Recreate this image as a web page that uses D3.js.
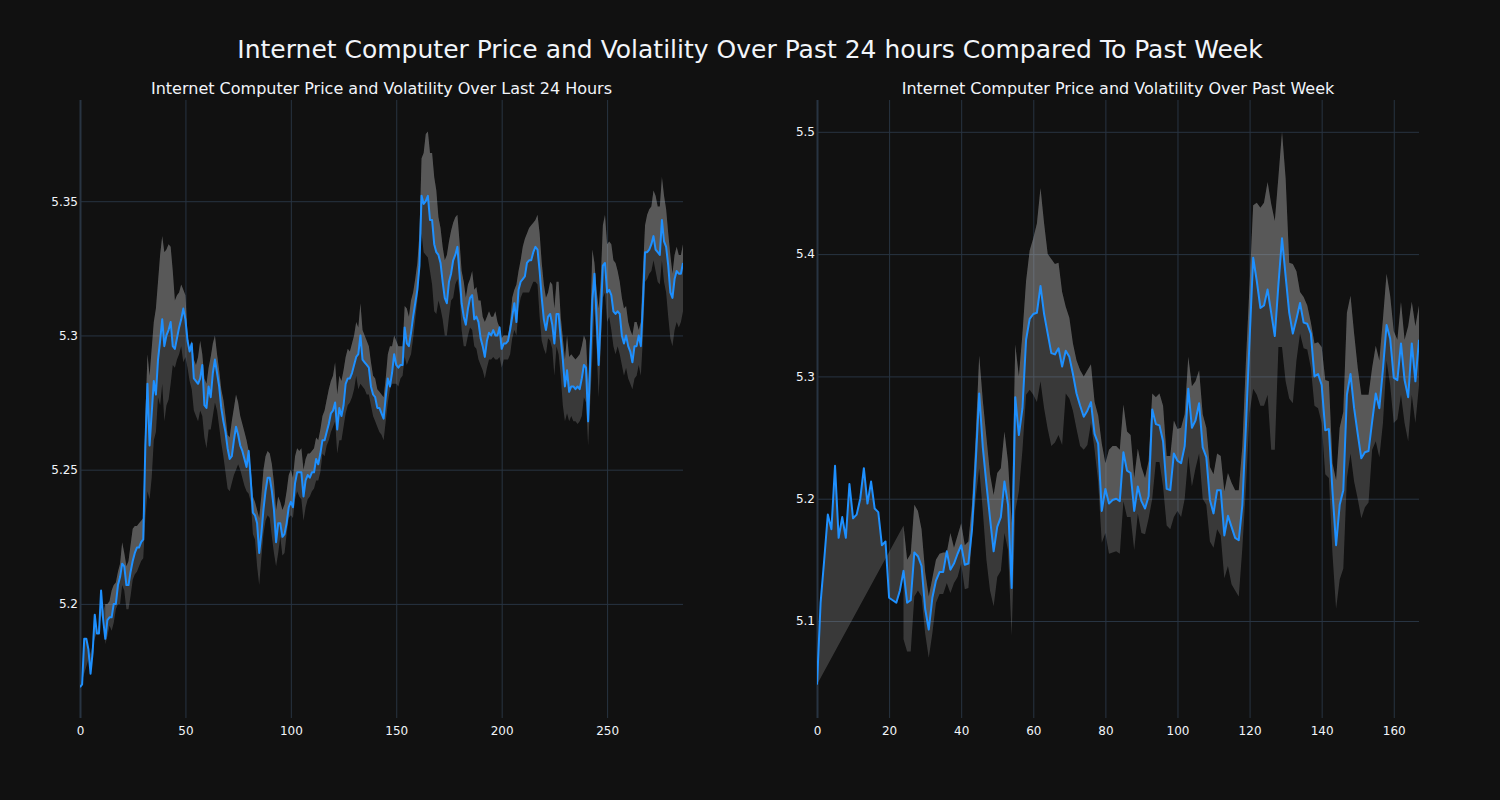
<!DOCTYPE html>
<html>
<head>
<meta charset="utf-8">
<script src="https://cdn.jsdelivr.net/npm/d3@7"></script>
<style>
  html, body { margin: 0; padding: 0; background: #111111; }
  svg { display: block; }
  text { font-family: "DejaVu Sans", sans-serif; fill: #f2f5fa; }
</style>
</head>
<body>
<svg id="chart" width="1500" height="800"></svg>
<script>
// ---------- DATA ----------
const mainTitle = "Internet Computer Price and Volatility Over Past 24 hours Compared To Past Week";
const leftTitle = "Internet Computer Price and Volatility Over Last 24 Hours";
const rightTitle = "Internet Computer Price and Volatility Over Past Week";

const leftXTicks = [0, 50, 100, 150, 200, 250];
const leftYTicks = [5.2, 5.25, 5.3, 5.35];
const leftYTickLabels = ["5.2", "5.25", "5.3", "5.35"];
const rightXTicks = [0, 20, 40, 60, 80, 100, 120, 140, 160];
const rightYTicks = [5.1, 5.2, 5.3, 5.4, 5.5];
const rightYTickLabels = ["5.1", "5.2", "5.3", "5.4", "5.5"];

// 24h price (5-minute steps)
const dayPrice = [
5.169,5.170,5.187,5.187,5.183,5.174,5.182,5.196,5.189,5.189,5.205,5.194,5.187,5.194,5.195,5.195,5.200,5.200,5.207,5.210,
5.215,5.214,5.207,5.207,5.212,5.216,5.219,5.221,5.221,5.223,5.224,5.259,5.282,5.259,5.271,5.283,5.278,5.291,5.298,5.306,
5.296,5.300,5.302,5.305,5.296,5.295,5.299,5.303,5.306,5.310,5.306,5.298,5.294,5.297,5.284,5.283,5.282,5.284,5.289,5.274,
5.273,5.281,5.277,5.286,5.291,5.286,5.281,5.273,5.268,5.264,5.258,5.254,5.255,5.261,5.266,5.263,5.259,5.257,5.254,5.251,
5.257,5.246,5.234,5.233,5.230,5.219,5.226,5.235,5.242,5.247,5.247,5.242,5.235,5.223,5.230,5.230,5.225,5.226,5.230,5.236,
5.238,5.236,5.245,5.249,5.249,5.249,5.240,5.246,5.248,5.247,5.249,5.249,5.254,5.252,5.256,5.261,5.261,5.264,5.267,5.271,
5.272,5.275,5.265,5.273,5.270,5.274,5.282,5.284,5.284,5.286,5.289,5.292,5.293,5.300,5.291,5.290,5.289,5.288,5.281,5.278,
5.277,5.273,5.273,5.271,5.269,5.277,5.284,5.281,5.286,5.293,5.289,5.288,5.289,5.289,5.303,5.297,5.296,5.301,5.307,5.312,
5.317,5.326,5.352,5.349,5.350,5.352,5.343,5.343,5.334,5.331,5.330,5.327,5.320,5.314,5.312,5.320,5.323,5.328,5.330,5.333,
5.323,5.312,5.307,5.304,5.310,5.314,5.315,5.306,5.307,5.305,5.299,5.296,5.292,5.298,5.301,5.300,5.302,5.300,5.300,5.303,
5.295,5.297,5.297,5.298,5.302,5.307,5.312,5.305,5.317,5.320,5.321,5.322,5.327,5.328,5.328,5.331,5.333,5.332,5.324,5.314,
5.306,5.302,5.307,5.308,5.304,5.297,5.308,5.308,5.299,5.291,5.281,5.287,5.279,5.281,5.281,5.280,5.281,5.280,5.284,5.289,
5.288,5.268,5.290,5.313,5.323,5.307,5.289,5.307,5.326,5.327,5.316,5.317,5.315,5.309,5.308,5.309,5.308,5.300,5.297,5.300,
5.296,5.294,5.290,5.296,5.296,5.300,5.296,5.312,5.331,5.331,5.332,5.334,5.337,5.332,5.331,5.330,5.343,5.335,5.333,5.326,
5.316,5.314,5.321,5.324,5.323,5.323,5.327
];
// 24h volatility band (first valid index 12)
const dayUpper = [
null,null,null,null,null,null,null,null,null,null,null,null,
5.200,5.200,5.201,5.205,5.207,5.208,5.212,5.215,5.223,5.219,5.214,5.216,5.222,5.228,5.229,5.229,5.230,5.231,
5.232,5.270,5.293,5.285,5.295,5.305,5.310,5.320,5.330,5.337,5.331,5.332,5.334,5.333,5.324,5.313,5.315,5.316,5.319,5.317,
5.315,5.300,5.295,5.298,5.291,5.289,5.292,5.298,5.293,5.284,5.282,5.288,5.292,5.297,5.300,5.293,5.287,5.280,5.276,5.270,
5.263,5.262,5.268,5.273,5.278,5.275,5.270,5.267,5.264,5.261,5.257,5.250,5.240,5.238,5.235,5.232,5.240,5.250,5.255,5.257,
5.256,5.252,5.245,5.235,5.240,5.238,5.235,5.237,5.242,5.248,5.250,5.247,5.255,5.258,5.257,5.258,5.250,5.254,5.256,5.256,
5.257,5.258,5.262,5.261,5.265,5.270,5.272,5.276,5.280,5.283,5.285,5.290,5.278,5.285,5.283,5.287,5.292,5.295,5.294,5.297,
5.300,5.305,5.303,5.312,5.302,5.300,5.298,5.296,5.290,5.285,5.284,5.280,5.279,5.278,5.277,5.284,5.293,5.296,5.296,5.300,
5.298,5.296,5.296,5.296,5.311,5.310,5.307,5.313,5.316,5.321,5.327,5.338,5.366,5.368,5.375,5.376,5.368,5.368,5.359,5.354,
5.344,5.340,5.333,5.328,5.330,5.335,5.339,5.342,5.344,5.345,5.335,5.324,5.320,5.314,5.319,5.321,5.324,5.317,5.318,5.313,
5.313,5.307,5.305,5.307,5.309,5.307,5.307,5.309,5.305,5.303,5.299,5.300,5.300,5.300,5.305,5.314,5.317,5.319,5.324,5.328,
5.333,5.336,5.338,5.340,5.341,5.342,5.343,5.345,5.338,5.327,5.319,5.314,5.316,5.320,5.319,5.310,5.320,5.320,5.307,5.299,
5.291,5.300,5.292,5.293,5.292,5.291,5.292,5.293,5.296,5.300,5.298,5.282,5.302,5.332,5.327,5.317,5.310,5.321,5.341,5.345,
5.334,5.335,5.334,5.328,5.327,5.324,5.320,5.314,5.310,5.311,5.305,5.302,5.300,5.305,5.305,5.302,5.305,5.324,5.341,5.345,
5.347,5.348,5.354,5.352,5.348,5.348,5.359,5.352,5.347,5.338,5.330,5.323,5.330,5.333,5.330,5.330,5.334
];
const dayLower = [
null,null,null,null,null,null,null,null,null,null,null,null,
5.185,5.188,5.192,5.190,5.193,5.198,5.200,5.200,5.207,5.205,5.198,5.198,5.203,5.209,5.211,5.212,5.214,5.216,
5.217,5.232,5.242,5.239,5.247,5.261,5.264,5.277,5.274,5.282,5.268,5.274,5.276,5.282,5.289,5.288,5.291,5.293,5.296,5.290,
5.292,5.288,5.283,5.280,5.272,5.270,5.268,5.272,5.270,5.262,5.258,5.265,5.265,5.270,5.275,5.272,5.266,5.260,5.255,5.249,
5.243,5.242,5.245,5.248,5.250,5.252,5.250,5.247,5.244,5.242,5.241,5.238,5.226,5.224,5.214,5.207,5.217,5.226,5.231,5.233,
5.232,5.225,5.219,5.214,5.219,5.225,5.218,5.219,5.226,5.232,5.233,5.232,5.239,5.242,5.240,5.239,5.231,5.236,5.239,5.240,
5.242,5.243,5.246,5.246,5.249,5.256,5.255,5.259,5.261,5.264,5.266,5.268,5.256,5.261,5.261,5.266,5.271,5.274,5.275,5.277,
5.280,5.285,5.280,5.282,5.281,5.280,5.278,5.278,5.274,5.270,5.268,5.266,5.264,5.263,5.261,5.268,5.275,5.280,5.282,5.282,
5.282,5.281,5.284,5.285,5.292,5.289,5.291,5.293,5.299,5.306,5.313,5.324,5.338,5.331,5.330,5.329,5.324,5.319,5.309,5.308,
5.313,5.310,5.306,5.300,5.300,5.307,5.313,5.314,5.319,5.321,5.316,5.302,5.296,5.296,5.300,5.303,5.302,5.296,5.295,5.291,
5.289,5.287,5.284,5.288,5.291,5.291,5.292,5.291,5.291,5.292,5.288,5.291,5.291,5.291,5.293,5.299,5.302,5.300,5.310,5.314,
5.316,5.316,5.316,5.316,5.318,5.320,5.320,5.319,5.307,5.298,5.295,5.293,5.299,5.298,5.295,5.285,5.296,5.293,5.285,5.274,
5.268,5.271,5.268,5.270,5.268,5.268,5.267,5.268,5.270,5.277,5.275,5.259,5.275,5.292,5.310,5.296,5.277,5.296,5.314,5.316,
5.305,5.307,5.302,5.296,5.293,5.296,5.293,5.289,5.285,5.288,5.284,5.282,5.280,5.284,5.285,5.289,5.285,5.299,5.320,5.321,
5.323,5.324,5.328,5.324,5.320,5.319,5.328,5.320,5.316,5.307,5.299,5.296,5.302,5.305,5.303,5.305,5.309
];

// Week price (hourly steps)
const weekPrice = [
5.048,5.115,5.150,5.187,5.175,5.227,5.168,5.185,5.168,5.212,5.184,5.187,5.200,5.225,5.196,5.214,5.192,5.189,5.162,5.165,
5.119,5.117,5.115,5.125,5.141,5.115,5.117,5.156,5.153,5.145,5.110,5.093,5.119,5.133,5.140,5.140,5.157,5.142,5.147,5.155,
5.162,5.146,5.147,5.175,5.228,5.286,5.242,5.212,5.184,5.157,5.177,5.185,5.214,5.195,5.127,5.283,5.252,5.274,5.330,5.347,
5.351,5.352,5.374,5.351,5.335,5.319,5.318,5.323,5.308,5.321,5.316,5.302,5.286,5.276,5.267,5.272,5.279,5.253,5.245,5.190,
5.208,5.196,5.199,5.200,5.198,5.238,5.223,5.221,5.190,5.210,5.198,5.192,5.202,5.273,5.261,5.260,5.247,5.208,5.207,5.237,
5.231,5.229,5.243,5.290,5.258,5.264,5.278,5.242,5.234,5.199,5.188,5.207,5.207,5.170,5.186,5.177,5.168,5.166,5.195,5.260,
5.330,5.397,5.378,5.356,5.358,5.371,5.352,5.333,5.375,5.413,5.382,5.352,5.335,5.347,5.360,5.344,5.343,5.335,5.300,5.302,
5.293,5.256,5.257,5.206,5.162,5.195,5.207,5.285,5.302,5.274,5.253,5.233,5.238,5.239,5.263,5.286,5.274,5.306,5.342,5.331,
5.299,5.297,5.327,5.297,5.283,5.327,5.296,5.330
];
const weekUpper = [
null,null,null,null,null,null,null,null,null,null,null,null,null,null,null,null,null,null,null,null,null,null,null,null,
5.178,5.150,5.155,5.195,5.190,5.175,5.140,5.120,5.135,5.150,5.155,5.156,5.156,5.172,5.160,5.170,
5.180,5.162,5.165,5.195,5.250,5.317,5.280,5.250,5.220,5.203,5.221,5.225,5.255,5.230,5.180,5.326,5.300,5.335,5.378,5.403,
5.413,5.425,5.454,5.425,5.400,5.396,5.392,5.393,5.369,5.357,5.348,5.327,5.313,5.305,5.300,5.305,5.310,5.279,5.268,5.245,
5.229,5.240,5.243,5.243,5.240,5.277,5.255,5.252,5.217,5.241,5.226,5.217,5.231,5.286,5.283,5.286,5.276,5.235,5.235,5.264,
5.257,5.258,5.269,5.316,5.292,5.296,5.305,5.269,5.258,5.226,5.220,5.237,5.235,5.206,5.221,5.213,5.207,5.207,5.243,5.313,
5.375,5.440,5.442,5.438,5.442,5.459,5.441,5.427,5.463,5.500,5.462,5.393,5.392,5.386,5.369,5.365,5.358,5.344,5.327,5.328,
5.324,5.297,5.296,5.229,5.215,5.258,5.271,5.352,5.366,5.335,5.307,5.285,5.285,5.285,5.307,5.325,5.313,5.347,5.384,5.366,
5.337,5.330,5.361,5.330,5.341,5.361,5.341,5.358
];
const weekLower = [
null,null,null,null,null,null,null,null,null,null,null,null,null,null,null,null,null,null,null,null,null,null,null,null,
5.085,5.075,5.075,5.120,5.125,5.120,5.090,5.070,5.090,5.115,5.122,5.122,5.131,5.123,5.131,5.136,
5.147,5.126,5.127,5.168,5.200,5.225,5.190,5.150,5.125,5.112,5.136,5.141,5.172,5.158,5.088,5.190,5.206,5.240,5.285,5.289,
5.285,5.279,5.296,5.274,5.257,5.243,5.246,5.252,5.244,5.286,5.282,5.272,5.257,5.243,5.240,5.244,5.262,5.240,5.214,5.164,
5.172,5.155,5.156,5.157,5.155,5.198,5.185,5.185,5.158,5.188,5.172,5.171,5.184,5.200,5.230,5.230,5.210,5.178,5.175,5.185,
5.190,5.185,5.200,5.235,5.210,5.225,5.237,5.200,5.195,5.165,5.160,5.175,5.170,5.135,5.145,5.130,5.125,5.120,5.160,5.210,
5.270,5.290,5.285,5.276,5.276,5.285,5.240,5.240,5.324,5.324,5.296,5.282,5.278,5.313,5.335,5.323,5.322,5.307,5.276,5.274,
5.262,5.220,5.217,5.155,5.110,5.134,5.143,5.217,5.237,5.214,5.200,5.184,5.193,5.197,5.240,5.247,5.234,5.262,5.313,5.293,
5.262,5.265,5.285,5.262,5.247,5.285,5.262,5.293
];

// ---------- DRAW ----------
const svg = d3.select("#chart");
svg.append("rect").attr("width", 1500).attr("height", 800).attr("fill", "#111111");

svg.append("text").attr("x", 750).attr("y", 58).attr("text-anchor", "middle")
  .style("font-size", "25px").text(mainTitle);

const GRID = "#283442";
const FILL = "rgba(190,190,190,0.24)";

function panel(cfg) {
  const { left, right, top, bottom, price, upper, lower, yDomain, xTicks, yTicks, yLabels, title } = cfg;
  const n = price.length;
  const x = d3.scaleLinear().domain([0, n - 1]).range([left, right]);
  const y = d3.scaleLinear().domain(yDomain).range([bottom, top]);
  const g = svg.append("g");

  const clipId = "clip" + left;
  svg.append("clipPath").attr("id", clipId).append("rect")
    .attr("x", left).attr("y", top).attr("width", right - left).attr("height", bottom - top);

  // gridlines
  const xAxis = d3.axisBottom(x).tickValues(xTicks).tickSize(-(bottom - top)).tickPadding(6).tickFormat(d3.format("d"));
  const gx = g.append("g").attr("transform", `translate(0,${bottom})`).call(xAxis);
  gx.select(".domain").remove();
  gx.selectAll(".tick line").attr("stroke", GRID).attr("stroke-width", d => d === 0 ? 2 : 1);
  gx.selectAll(".tick text").attr("fill", "#f2f5fa").style("font-size", "12px")
    .style("font-family", "DejaVu Sans, sans-serif").attr("dy", "0.71em").attr("y", 8);

  const yAxis = d3.axisLeft(y).tickValues(yTicks).tickSize(-(right - left)).tickPadding(2)
    .tickFormat((d, i) => yLabels[i]);
  const gy = g.append("g").attr("transform", `translate(${left},0)`).call(yAxis);
  gy.select(".domain").remove();
  gy.selectAll(".tick line").attr("stroke", GRID).attr("stroke-width", 1);
  gy.selectAll(".tick text").attr("fill", "#f2f5fa").style("font-size", "12px")
    .style("font-family", "DejaVu Sans, sans-serif").attr("x", -2);

  const plot = g.append("g").attr("clip-path", `url(#${clipId})`);
  const pts = arr => arr.map((v, i) => [i, v]).filter(d => d[1] !== null);
  const line = d3.line().x(d => x(d[0])).y(d => y(d[1]));

  const pricePts = pts(price);
  const upPts = pts(upper);
  const loPts = pts(lower);

  // upper bound filled to price (tonexty)
  plot.append("path").attr("d", line(upPts.concat(pricePts.slice().reverse())) + "Z")
    .attr("fill", FILL).attr("stroke", "none");
  // lower bound filled to upper bound (tonexty)
  plot.append("path").attr("d", line(loPts.concat(upPts.slice().reverse())) + "Z")
    .attr("fill", FILL).attr("stroke", "none");
  // price line
  plot.append("path").attr("d", line(pricePts))
    .attr("fill", "none").attr("stroke", "#1e90ff").attr("stroke-width", 2).attr("stroke-linejoin", "round");

  svg.append("text").attr("x", (left + right) / 2).attr("y", 94).attr("text-anchor", "middle")
    .style("font-size", "16px").text(title);
}

panel({ left: 80, right: 683, top: 100, bottom: 718, price: dayPrice, upper: dayUpper, lower: dayLower,
  yDomain: [5.1575, 5.3877], xTicks: leftXTicks, yTicks: leftYTicks, yLabels: leftYTickLabels, title: leftTitle });
panel({ left: 817, right: 1419, top: 100, bottom: 718, price: weekPrice, upper: weekUpper, lower: weekLower,
  yDomain: [5.0207, 5.526], xTicks: rightXTicks, yTicks: rightYTicks, yLabels: rightYTickLabels, title: rightTitle });
</script>
</body>
</html>
